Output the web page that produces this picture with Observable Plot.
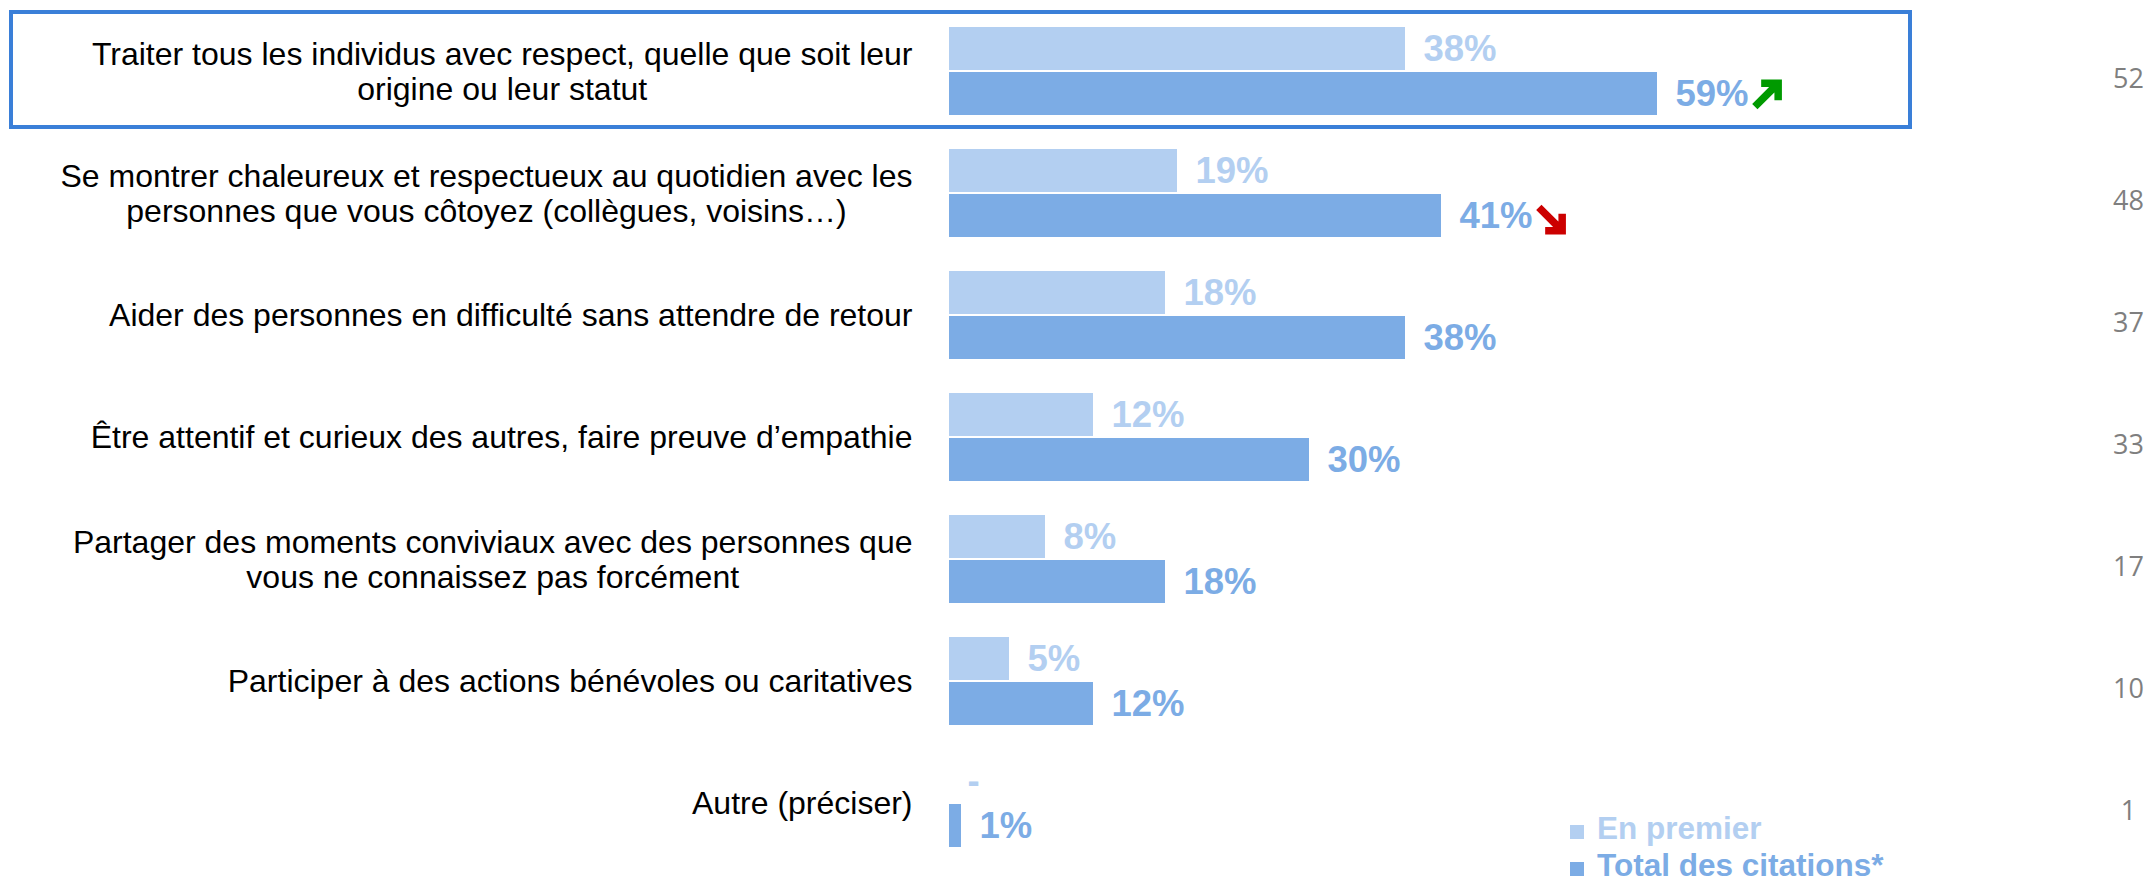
<!DOCTYPE html>
<html>
<head>
<meta charset="utf-8">
<script src="https://cdn.jsdelivr.net/npm/d3@7"></script>
<script src="https://cdn.jsdelivr.net/npm/@observablehq/plot@0.6"></script>
<style>
html, body { margin: 0; padding: 0; background: #fff; overflow: hidden; width: 2149px; height: 880px; }
#chart { position: relative; width: 2149px; height: 880px; }
#legend { position: absolute; left: 1570px; top: 810px; font: bold 31.5px "Liberation Sans", Arial, sans-serif; line-height: 37px; white-space: nowrap; }
#legend .sw { display: inline-block; width: 14px; height: 14px; margin-right: 13px; }
</style>
</head>
<body>
<div id="chart"></div>
<script>
// ---- data ----
const categories = [
  "Traiter tous les individus avec respect, quelle que soit leur\norigine ou leur statut",
  "Se montrer chaleureux et respectueux au quotidien avec les\npersonnes que vous côtoyez (collègues, voisins…)",
  "Aider des personnes en difficulté sans attendre de retour",
  "Être attentif et curieux des autres, faire preuve d’empathie",
  "Partager des moments conviviaux avec des personnes que\nvous ne connaissez pas forcément",
  "Participer à des actions bénévoles ou caritatives",
  "Autre (préciser)"
];
const enPremier = [38, 19, 18, 12, 8, 5, null];
const totalCitations = [59, 41, 38, 30, 18, 12, 1];
const baseCounts = [52, 48, 37, 33, 17, 10, 1];
const seriesNames = ["En premier", "Total des citations*"];
const seriesColors = ["#B3CFF1", "#7CACE5"];
const trendUp = [categories[0]];
const trendDown = [categories[1]];
const highlighted = [categories[0]];

// ---- derived tables ----
const rows = categories.flatMap((c, i) => [
  {cat: c, series: seriesNames[0], value: enPremier[i]},
  {cat: c, series: seriesNames[1], value: totalCitations[i]}
]);
const countRows = categories.map((c, i) => ({cat: c, n: baseCounts[i]}));
const trendRows = (list, dir) => list.map(c => ({cat: c, dir, value: totalCitations[categories.indexOf(c)]}));

// measure label widths for centred multi-line labels
const ctx = document.createElement("canvas").getContext("2d");
const labelFont = 32;
ctx.font = `${labelFont}px "Liberation Sans", Arial, sans-serif`;
const labelPad = 37;
const labelMarks = categories.map(c => {
  const w = Math.max(...c.split("\n").map(s => ctx.measureText(s).width));
  return Plot.text([c], {
    fy: d => d, text: d => d, frameAnchor: "left", textAnchor: "middle",
    dx: -(labelPad + w / 2), fontSize: labelFont, lineHeight: 1.12, fill: "#000"
  });
});

const arrowShape = {
  draw(context, l) {
    const a = 17 * Math.SQRT1_2;
    context.moveTo(0, 0);
    context.lineTo(0, -l + 2);
    context.moveTo(-a, -l + a);
    context.lineTo(0, -l);
    context.lineTo(a, -l + a);
  }
};

const chart = Plot.plot({
  width: 2149,
  height: 880,
  marginLeft: 949,
  marginRight: 0,
  marginTop: 24,
  marginBottom: 32,
  x: {domain: [0, 100], axis: null},
  y: {domain: seriesNames, paddingInner: 0.045, paddingOuter: 0, axis: null},
  fy: {domain: categories, paddingInner: 0.273, paddingOuter: 0, axis: null, label: null},
  color: {domain: seriesNames, range: seriesColors},
  style: {fontFamily: '"Liberation Sans", Arial, sans-serif', background: "#fff"},
  marks: [
    Plot.rect(highlighted, {
      fy: d => d, fill: "none", stroke: "#3A7FD8", strokeWidth: 4,
      insetLeft: -938, insetRight: 239, insetTop: -14, insetBottom: -12
    }),
    Plot.barX(rows.filter(d => d.value != null), {fy: "cat", y: "series", x: "value", fill: "series"}),
    Plot.text(rows, {
      fy: "cat", y: "series", x: d => d.value ?? 0,
      text: d => d.value == null ? "-" : d.value + "%",
      fill: "series", dx: 18, textAnchor: "start", fontWeight: "bold", fontSize: 36.5
    }),
    Plot.vector(trendRows(trendUp, "up"), {
      fy: "cat", y: () => seriesNames[1], x: "value", rotate: 45, length: 33,
      shape: arrowShape, anchor: "middle", dx: 109, dy: 1,
      stroke: "#009A00", strokeWidth: 7.5, strokeLinejoin: "miter", strokeLinecap: "butt"
    }),
    Plot.vector(trendRows(trendDown, "down"), {
      fy: "cat", y: () => seriesNames[1], x: "value", rotate: 135, length: 33,
      shape: arrowShape, anchor: "middle", dx: 109, dy: 3,
      stroke: "#CC0000", strokeWidth: 7.5, strokeLinejoin: "miter", strokeLinecap: "butt"
    }),
    ...labelMarks,
    Plot.text(countRows, {
      fy: "cat", text: "n", frameAnchor: "right", textAnchor: "middle",
      dx: -21, dy: 8, fontSize: 27, fontFamily: '"Open Sans", sans-serif', fill: "#7F7F7F"
    })
  ]
});

const host = document.getElementById("chart");
host.appendChild(chart);

const legend = document.createElement("div");
legend.id = "legend";
legend.innerHTML = seriesNames.map((s, i) =>
  `<div style="color:${seriesColors[i]}"><span class="sw" style="background:${seriesColors[i]}"></span>${s}</div>`
).join("");
host.appendChild(legend);
</script>
</body>
</html>
